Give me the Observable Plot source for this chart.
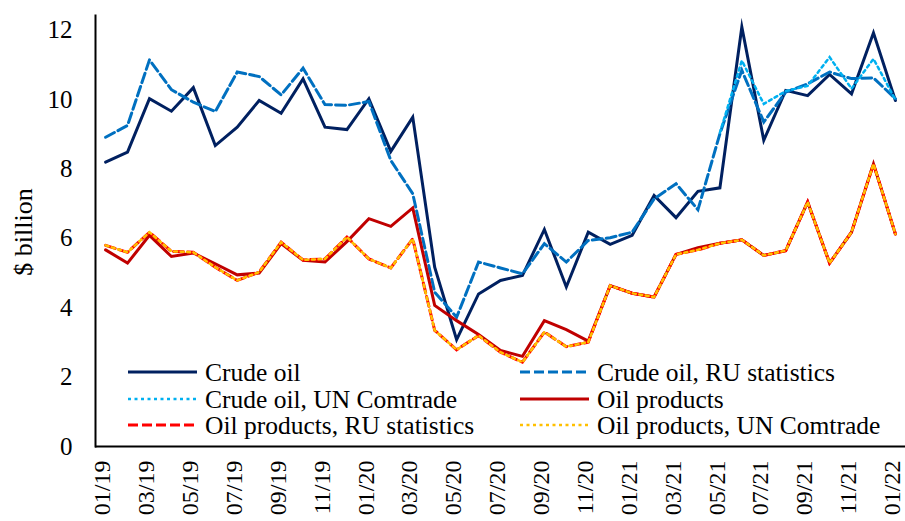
<!DOCTYPE html>
<html><head><meta charset="utf-8">
<script src="https://cdn.jsdelivr.net/npm/d3@7"></script>
<script src="https://cdn.jsdelivr.net/npm/@observablehq/plot@0.6"></script>
<style>body{margin:0;background:#fff}</style>
</head><body><div id="chart"></div>
<script>
const months = ["01/19","02/19","03/19","04/19","05/19","06/19","07/19","08/19","09/19","10/19","11/19","12/19",
  "01/20","02/20","03/20","04/20","05/20","06/20","07/20","08/20","09/20","10/20","11/20","12/20",
  "01/21","02/21","03/21","04/21","05/21","06/21","07/21","08/21","09/21","10/21","11/21","12/21","01/22"];
const xTickLabels = months.filter((d, i) => i % 2 === 0);
const yTicks = [0, 2, 4, 6, 8, 10, 12];

const crudeOil = [8.20,8.49,10.03,9.67,10.35,8.68,9.21,9.98,9.61,10.60,9.21,9.14,
  10.03,8.51,9.50,5.17,3.08,4.40,4.79,4.93,6.26,4.60,6.18,5.83,
  6.09,7.24,6.60,7.36,7.46,12.10,8.83,10.27,10.12,10.73,10.17,11.93,9.98];
const crudeOilRU = [8.92,9.26,11.15,10.29,9.93,9.66,10.80,10.67,10.14,10.91,9.86,9.84,
  9.95,8.25,7.29,4.45,3.73,5.32,5.15,4.98,5.85,5.32,5.94,6.02,
  6.18,7.14,7.58,6.83,9.02,10.85,9.36,10.22,10.46,10.80,10.61,10.63,10.03];
const crudeOilUN = [null,null,null,null,null,null,null,null,null,null,null,null,
  null,null,null,null,null,null,null,null,null,null,null,null,
  null,null,null,null,9.05,11.13,9.88,10.25,10.40,11.23,10.32,11.18,10.00];
const oilProducts = [5.67,5.29,6.09,5.48,5.58,5.27,4.95,5.00,5.85,5.37,5.32,5.91,
  6.57,6.35,6.88,4.07,3.63,3.23,2.77,2.60,3.63,3.37,3.04,4.64,
  4.42,4.31,5.54,5.73,5.86,5.96,5.51,5.65,7.05,5.29,6.18,8.15,6.13];
const oilProductsRU = [5.80,5.60,6.18,5.63,5.60,5.17,4.79,5.03,5.89,5.38,5.41,6.04,
  5.41,5.15,5.99,3.35,2.79,3.20,2.72,2.43,3.30,2.88,3.01,4.64,
  4.42,4.31,5.54,5.67,5.86,5.96,5.51,5.65,7.05,5.29,6.18,8.15,6.13];
const oilProductsUN = [5.80,5.60,6.18,5.63,5.60,5.17,4.79,5.03,5.89,5.38,5.41,6.04,
  5.41,5.15,5.99,3.35,2.79,3.20,2.72,2.43,3.30,2.88,3.01,4.64,
  4.42,4.31,5.54,5.67,5.86,5.96,5.51,5.65,7.05,5.29,6.18,8.15,6.13];

const seriesNames = ["Crude oil","Crude oil, RU statistics","Crude oil, UN Comtrade",
  "Oil products","Oil products, RU statistics","Oil products, UN Comtrade"];
const seriesValues = [crudeOil, crudeOilRU, crudeOilUN, oilProducts, oilProductsRU, oilProductsUN];
const seriesColors = ["#002060","#0070c0","#00b0f0","#c00000","#ff0000","#ffc000"];
const seriesDash = [null, "10,4", "3,3.5", null, "10,4", "3,3.5"];
const seriesWidth = [3, 3, 2.5, 3, 3, 2.5];

const lines = seriesValues.map((vals, s) =>
  Plot.line(months.map((m, i) => ({m, v: vals[i]})), {
    x: "m", y: "v", stroke: seriesColors[s], strokeWidth: seriesWidth[s],
    strokeDasharray: seriesDash[s] || undefined, strokeLinejoin: "miter", strokeMiterlimit: 10
  })
);

const font = "Liberation Serif, Times New Roman, serif";
const svg = Plot.plot({
  width: 905, height: 521,
  marginLeft: 95, marginRight: 0, marginTop: 15, marginBottom: 75,
  style: {fontFamily: font, fontSize: "25px", color: "#000", background: "#fff", overflow: "visible"},
  x: {type: "point", domain: months, padding: 0.46},
  y: {domain: [0, 12.43]},
  marks: [
    Plot.axisY({ticks: yTicks, tickSize: 0, tickPadding: 23, label: null, fontSize: 25}),
    Plot.axisX({ticks: xTickLabels, tickSize: 0, tickRotate: -90, tickPadding: 14, label: null, fontSize: 24, dx: -3}),
    ...lines,
    Plot.ruleY([0], {stroke: "#000", strokeWidth: 2}),
    Plot.frame({anchor: "left", stroke: "#000", strokeWidth: 2})
  ]
});
document.getElementById("chart").appendChild(svg);

const s = d3.select(svg);
s.append("text")
  .attr("transform", "translate(32,232) rotate(-90)")
  .attr("text-anchor", "middle")
  .attr("font-family", font).style("font-family", font)
  .attr("font-size", 26).style("font-size", "26px").attr("fill", "#000")
  .text("$ billion");

const legCols = [128, 520];
const legRows = [372, 399, 425];
const lg = s.append("g").attr("text-anchor", "start");
seriesNames.forEach((name, i) => {
  const cx = legCols[i % 2], cy = legRows[Math.floor(i / 2)];
  lg.append("line").attr("x1", cx).attr("x2", cx + 69).attr("y1", cy).attr("y2", cy)
    .attr("stroke", seriesColors[i]).attr("stroke-width", seriesWidth[i])
    .attr("stroke-dasharray", seriesDash[i]);
  lg.append("text").attr("x", cx + 77).attr("y", cy).attr("dy", "0.35em")
    .attr("text-anchor", "start")
    .attr("font-family", font).style("font-family", font)
    .style("font-size", "25.5px").attr("fill", "#000")
    .text(name);
});
</script>
</body></html>
